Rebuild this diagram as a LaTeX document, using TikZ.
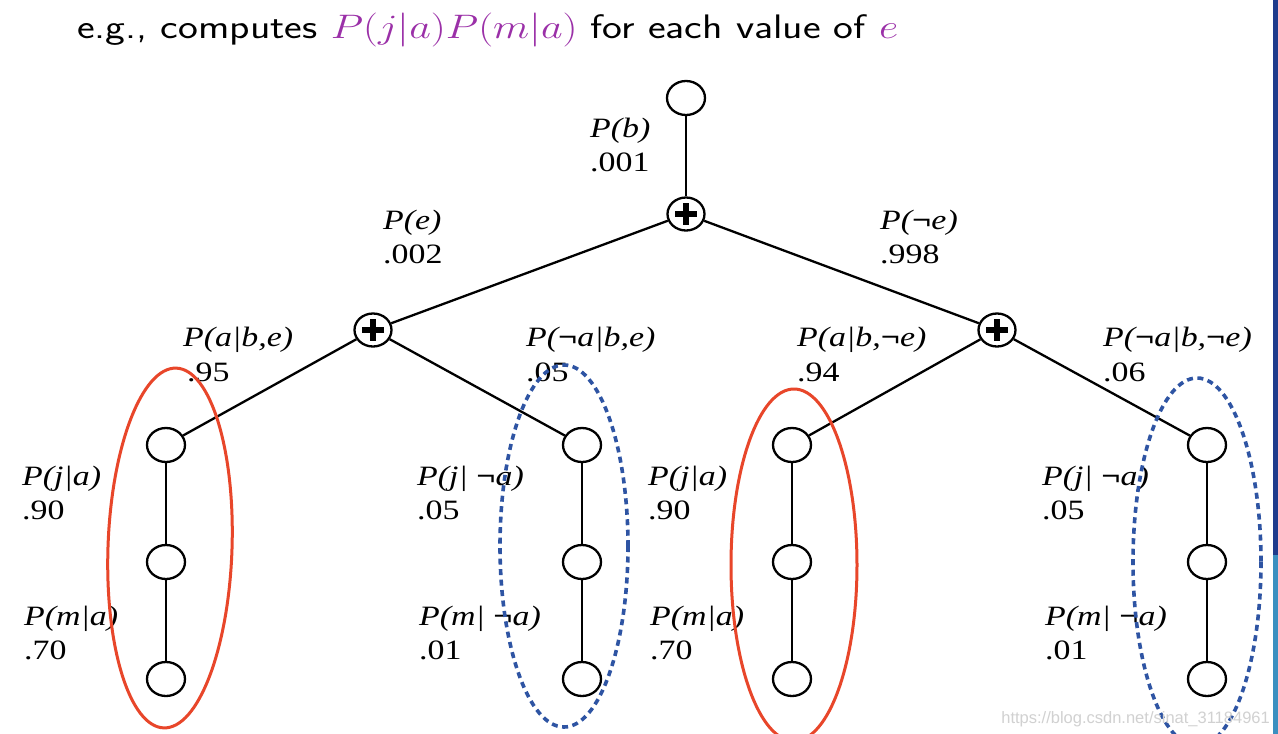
\RequirePackage{fix-cm}
\documentclass[tikz,border=0pt]{standalone}
\usepackage{fontspec}
\usetikzlibrary{shapes.geometric}
\newfontfamily\labfont[FakeStretch=1.21]{Liberation Serif}
\newfontfamily\wmfont{Liberation Sans}
\newcommand{\negsym}{{\upshape\bfseries ¬}}
\definecolor{ttl}{HTML}{9B30A8}
\definecolor{hlred}{HTML}{E8462A}
\definecolor{hlblue}{HTML}{2E54A3}
\definecolor{bardark}{HTML}{1F3B8C}
\definecolor{barlight}{HTML}{3B8FC0}
\begin{document}
\begin{tikzpicture}[x=1pt,y=-1pt,
  vnode/.style={draw, ellipse, line width=2.3pt, minimum width=38pt, minimum height=34pt, inner sep=0pt},
  plusnode/.style={vnode, minimum width=37pt, minimum height=33pt,
    path picture={
      \fill ([xshift=-11pt,yshift=-3.3pt]path picture bounding box.center) rectangle ([xshift=11pt,yshift=3.3pt]path picture bounding box.center);
      \fill ([xshift=-3.3pt,yshift=-11pt]path picture bounding box.center) rectangle ([xshift=3.3pt,yshift=11pt]path picture bounding box.center);}},
  link/.style={line width=2.3pt},
  lab/.style={anchor=base west, inner sep=0pt, font=\labfont\fontsize{28}{34}\selectfont},
  redring/.style={draw=hlred, line width=3pt},
  bluering/.style={draw=hlblue, line width=3.6pt, dash pattern=on 6pt off 4.5pt}
]
\useasboundingbox (0,0) rectangle (1278,734);
\fill[white] (0,0) rectangle (1278,734);
% right edge bar
\fill[bardark] (1273,0) rectangle (1278,555);
\fill[barlight] (1273,555) rectangle (1278,734);

% title
\node[anchor=base west, inner sep=0pt, font=\sffamily\fontsize{34}{40}\selectfont, xscale=1.24] (title) at (77,38)
  {e.g., computes \textcolor{ttl}{$P(j|a)P(m|a)$} for each value of \textcolor{ttl}{$e$}};

% nodes
\node[vnode] (root) at (686,98) {};
\node[plusnode] (p0) at (686,214) {};
\node[plusnode] (pL) at (373,330) {};
\node[plusnode] (pR) at (997,330) {};
\foreach \c/\x in {1/166,2/582,3/792,4/1207}{
  \node[vnode] (a\c) at (\x,445) {};
  \node[vnode] (j\c) at (\x,562) {};
  \node[vnode] (m\c) at (\x,679) {};
  \draw[link] (a\c) -- (j\c);
  \draw[link] (j\c) -- (m\c);
}
\draw[link] (root) -- (p0);
\draw[link] (p0) -- (pL);
\draw[link] (p0) -- (pR);
\draw[link] (pL) -- (a1);
\draw[link] (pL) -- (a2);
\draw[link] (pR) -- (a3);
\draw[link] (pR) -- (a4);

% labels
\node[lab] (lb1) at (590,137) {\itshape P(b)};
\node[lab] (lb2) at (590,171) {.001};
\node[lab] (le1) at (383,229) {\itshape P(e)};
\node[lab] (le2) at (383,263) {.002};
\node[lab] (lne1) at (880,229) {\itshape P(\negsym e)};
\node[lab] (lne2) at (880,263) {.998};
\node[lab] (l11) at (183,346) {\itshape P(a|b,e)};
\node[lab] (l12) at (187,381) {.95};
\node[lab] (l21) at (526,346) {\itshape P(\negsym a|b,e)};
\node[lab] (l22) at (526,381) {.05};
\node[lab] (l31) at (797,346) {\itshape P(a|b,\negsym e)};
\node[lab] (l32) at (797,381) {.94};
\node[lab] (l41) at (1103,346) {\itshape P(\negsym a|b,\negsym e)};
\node[lab] (l42) at (1103,381) {.06};

\node[lab] (c1j) at (22,485) {\itshape P(j|a)};
\node[lab] (c1jv) at (22,519) {.90};
\node[lab] (c1m) at (24,625) {\itshape P(m|a)};
\node[lab] (c1mv) at (24,659) {.70};
\node[lab] (c2j) at (417,485) {\itshape P(j| \negsym a)};
\node[lab] (c2jv) at (417,519) {.05};
\node[lab] (c2m) at (419,625) {\itshape P(m| \negsym a)};
\node[lab] (c2mv) at (419,659) {.01};
\node[lab] (c3j) at (648,485) {\itshape P(j|a)};
\node[lab] (c3jv) at (648,519) {.90};
\node[lab] (c3m) at (650,625) {\itshape P(m|a)};
\node[lab] (c3mv) at (650,659) {.70};
\node[lab] (c4j) at (1042,485) {\itshape P(j| \negsym a)};
\node[lab] (c4jv) at (1042,519) {.05};
\node[lab] (c4m) at (1045,625) {\itshape P(m| \negsym a)};
\node[lab] (c4mv) at (1045,659) {.01};

% highlight rings
\draw[redring, rotate around={-2:(170,548)}] (170,548) ellipse [x radius=62, y radius=180];
\draw[bluering] (564,546) ellipse [x radius=64, y radius=181];
\draw[redring] (794,565) ellipse [x radius=63, y radius=176];
\draw[bluering] (1197,562) ellipse [x radius=64, y radius=184];

% watermark
\node[anchor=base east, inner sep=0pt, font=\wmfont\fontsize{16.5}{20}\selectfont, text=black!18] (wm) at (1270,723) {https://blog.csdn.net/sinat\_31184961};
\end{tikzpicture}
\end{document}
